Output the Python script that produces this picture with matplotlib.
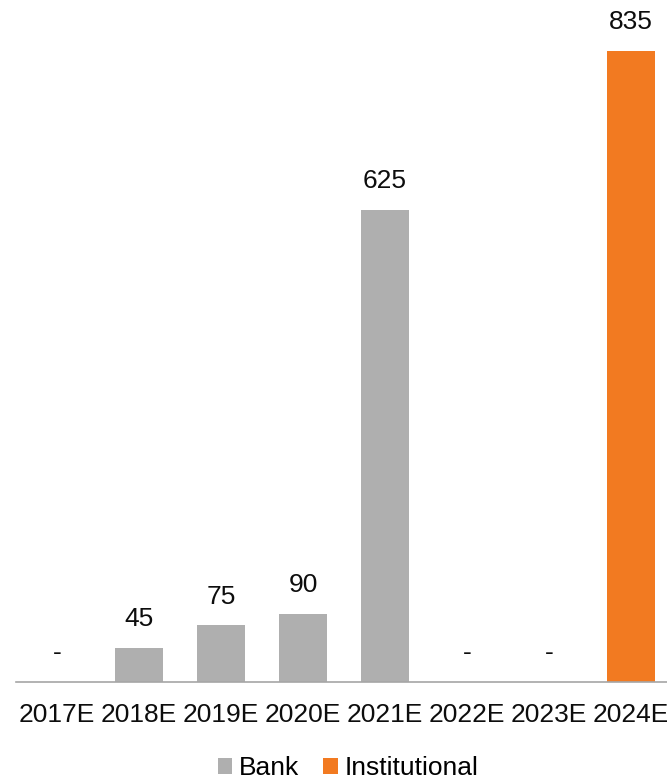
import numpy as np
import matplotlib.pyplot as plt

plt.rcParams['font.family'] = ['Liberation Sans', 'DejaVu Sans']

years = ['2017E', '2018E', '2019E', '2020E', '2021E', '2022E', '2023E', '2024E']
bank = [0, 45, 75, 90, 625, 0, 0, 0]
institutional = [0, 0, 0, 0, 0, 0, 0, 835]

GRAY = '#AFAFAF'
ORANGE = '#F27A21'

fig = plt.figure(figsize=(6.67, 7.8), dpi=100)
ax = fig.add_axes([16 / 667, 98 / 780, 656 / 667, 680 / 780])

x = np.arange(len(years))
bank = np.array(bank)
institutional = np.array(institutional)
total = bank + institutional

ax.bar(x, bank, width=0.58, color=GRAY, label='Bank')
ax.bar(x, institutional, width=0.58, bottom=bank, color=ORANGE, label='Institutional')

# value labels on top, dash for zero
for xi, v in zip(x, total):
    txt = '-' if v == 0 else f'{v:,}'
    ax.annotate(txt, (xi, v), xytext=(0, 12), textcoords='offset points',
                ha='center', va='bottom', fontsize=19, color='#0d0d0d')

ax.set_xlim(-0.5, 7.5)
ax.set_ylim(0, 900)
ax.set_xticks(x)
ax.set_xticklabels(years, fontsize=19, color='#0d0d0d')
ax.tick_params(axis='x', length=0, pad=15)
ax.set_yticks([])
for side in ['top', 'right', 'left']:
    ax.spines[side].set_visible(False)
ax.spines['bottom'].set_color('#A6A6A6')
ax.spines['bottom'].set_linewidth(1.2)

fig.legend(loc='center', bbox_to_anchor=(348 / 667, 12 / 780), ncol=2, frameon=False,
           fontsize=19, handlelength=0.55, handleheight=0.55, handletextpad=0.25,
           columnspacing=0.9)

fig.savefig('out.png', dpi=100)
